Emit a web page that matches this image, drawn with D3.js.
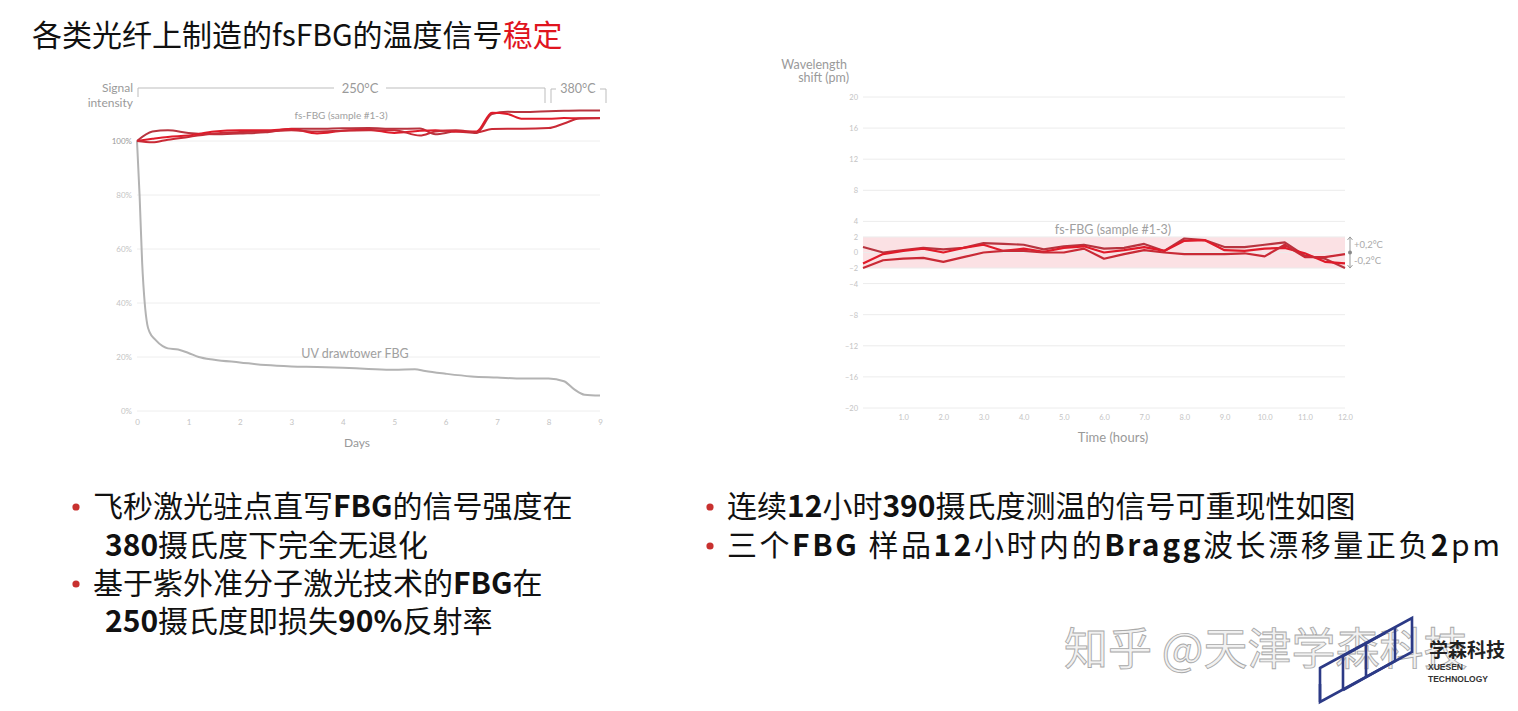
<!DOCTYPE html>
<html><head><meta charset="utf-8">
<script src="https://cdn.jsdelivr.net/npm/d3@7"></script>
<style>
html,body{margin:0;padding:0;background:#fff;}
svg{display:block;}
</style></head>
<body>
<svg id="c" width="1518" height="711"></svg>
<script>
// ---------- DATA ----------
// Left chart: signal intensity (%) vs days
const leftYTicks = [0, 20, 40, 60, 80, 100];
const leftXTicks = [0, 1, 2, 3, 4, 5, 6, 7, 8, 9];
const fsDays = [0, 0.3, 0.6, 1, 1.5, 2, 2.5, 3, 3.5, 4, 4.5, 5, 5.5, 5.8, 6.2, 6.6, 6.9, 7.2, 7.5, 8, 8.3, 8.6, 9];
const fsSample1 = [100, 103.5, 104, 103, 102.5, 102.8, 103.2, 104.5, 104.5, 104.7, 104.8, 104.5, 104.6, 102.5, 103.5, 103, 110, 110.8, 110.7, 111, 111.2, 111.3, 111.3];
const fsSample2 = [100, 100.8, 101.5, 102, 103.5, 104, 104, 104.4, 102.8, 103.8, 104.2, 103, 103.8, 104, 103.5, 103.5, 110.5, 110, 108.2, 108.2, 108.5, 108.4, 108.4];
const fsSample3 = [100, 99.5, 100.5, 101.5, 102.8, 103.3, 103.5, 104, 103.5, 103.8, 104, 104, 102, 103.5, 104, 103.2, 104.4, 104.5, 104.5, 104.8, 106.5, 108.3, 108.5];
const uvDays = [0, 0.05, 0.1, 0.15, 0.2, 0.25, 0.35, 0.5, 0.6, 0.8, 1.0, 1.2, 1.5, 2, 2.5, 3, 3.5, 4, 4.5, 5, 5.4, 5.6, 6, 6.5, 7, 7.5, 8, 8.3, 8.5, 8.7, 9];
const uvSignal = [100, 80, 55, 40, 32, 29, 26.5, 24, 23.2, 22.8, 21.5, 20, 19, 18, 17, 16.5, 16.3, 16, 15.6, 15.3, 15.5, 14.8, 13.8, 12.8, 12.4, 12, 12, 11, 8, 6, 5.7];

// Right chart: wavelength shift (pm) vs time (hours)
const rightYTicks = [20, 16, 12, 8, 4, 2, 0, -2, -4, -8, -12, -16, -20];
const rightXTicks = [1, 2, 3, 4, 5, 6, 7, 8, 9, 10, 11, 12];
const hours = [0, 0.5, 1, 1.5, 2, 2.5, 3, 3.5, 4, 4.5, 5, 5.5, 6, 6.5, 7, 7.5, 8, 8.5, 9, 9.5, 10, 10.5, 11, 11.5, 12];
const shiftA = [0.7, 0.0, 0.3, 0.6, 0.4, 0.6, 1.2, 1.1, 1.0, 0.4, 0.8, 1.0, 0.5, 0.6, 1.1, 0.2, 1.8, 1.6, 0.7, 0.7, 1.0, 1.3, -0.4, -0.8, -2.0];
const shiftB = [-1.4, -0.2, 0.2, 0.5, 0.0, 0.6, 1.0, 0.2, 0.5, 0.1, 0.6, 0.8, 0.0, 0.3, 0.7, 0.2, 1.5, 1.6, 0.3, 0.2, 0.5, 0.6, -0.1, -1.2, -1.4];
const shiftC = [-2.0, -1.0, -0.8, -0.7, -1.2, -0.6, 0.0, 0.2, 0.2, 0.0, 0.0, 0.5, -0.8, -0.2, 0.3, 0.0, -0.2, -0.2, -0.2, -0.1, -0.5, 1.0, -0.6, -0.6, -0.2];
const bandLimit = 2;

const svg = d3.select("#c");
svg.append("rect").attr("width",1518).attr("height",711).attr("fill","#fff");

const CJK = "'Noto Sans CJK SC','Noto Sans',sans-serif";
const LAT = "Lato,'Open Sans',sans-serif";

// ---------- TITLE ----------
const title = svg.append("text").attr("x",32).attr("y",46)
  .attr("font-family",CJK).attr("font-size",30).attr("fill","#111");
title.append("tspan").text("各类光纤上制造的fsFBG的温度信号");
title.append("tspan").attr("fill","#e0141e").text("稳定");

// ---------- LEFT CHART ----------
const lx = d3.scaleLinear().domain([0,9]).range([137,600]);
const ly = d3.scaleLinear().domain([0,100]).range([411,141]);
const L = svg.append("g");

L.selectAll(".lg").data(leftYTicks).join("line")
  .attr("x1",lx(0)).attr("x2",lx(9)).attr("y1",d=>ly(d)).attr("y2",d=>ly(d))
  .attr("stroke","#eeeeee").attr("stroke-width",1);
const lyAxis = L.append("g").attr("transform",`translate(${lx(0)-3},0)`)
  .call(d3.axisLeft(ly).tickValues(leftYTicks).tickFormat(d=>d+"%").tickSize(0).tickPadding(2));
lyAxis.select(".domain").remove();
lyAxis.selectAll("text").attr("font-family",LAT).attr("font-size",8)
  .attr("fill",d=>d===100?"#999":"#c4c4c4");
const lxAxis = L.append("g").attr("transform",`translate(0,${ly(0)+8})`)
  .call(d3.axisBottom(lx).tickValues(leftXTicks).tickFormat(d3.format("d")).tickSize(0).tickPadding(0));
lxAxis.select(".domain").remove();
lxAxis.selectAll("text").attr("font-family",LAT).attr("font-size",8).attr("fill","#c4c4c4");
L.append("text").attr("x",357).attr("y",447).attr("text-anchor","middle")
  .attr("font-family",LAT).attr("font-size",12).attr("fill","#999").text("Days");
L.append("text").attr("x",133).attr("y",92).attr("text-anchor","end")
  .attr("font-family",LAT).attr("font-size",12).attr("fill","#9a9a9a").text("Signal");
L.append("text").attr("x",133).attr("y",107).attr("text-anchor","end")
  .attr("font-family",LAT).attr("font-size",12).attr("fill","#9a9a9a").text("intensity");

// temperature brackets
const bc = "#bdbdbd";
L.append("path").attr("fill","none").attr("stroke",bc).attr("stroke-width",1)
  .attr("d",`M${lx(0)+1},97 V88 H334 M386,88 H545 V103`);
L.append("text").attr("x",360).attr("y",93).attr("text-anchor","middle")
  .attr("font-family",LAT).attr("font-size",13).attr("fill","#9a9a9a").text("250°C");
L.append("path").attr("fill","none").attr("stroke",bc).attr("stroke-width",1)
  .attr("d",`M551,103 V89 H556 M600,89 H606 V103`);
L.append("text").attr("x",578).attr("y",93).attr("text-anchor","middle")
  .attr("font-family",LAT).attr("font-size",12.5).attr("fill","#9a9a9a").text("380°C");

const lline = d3.line().x(d=>lx(d[0])).y(d=>ly(d[1])).curve(d3.curveMonotoneX);
L.append("path").attr("d",lline(uvDays.map((d,i)=>[d,uvSignal[i]])))
  .attr("fill","none").attr("stroke","#b3b3b3").attr("stroke-width",2);
L.append("text").attr("x",355).attr("y",358).attr("text-anchor","middle")
  .attr("font-family",LAT).attr("font-size",12.5).attr("fill","#a0a0a0").text("UV drawtower  FBG");

const fsCols = ["#b8343f","#e01b2a","#c92a36"];
[fsSample1, fsSample2, fsSample3].forEach((s,k)=>{
  L.append("path").attr("d",lline(fsDays.map((d,i)=>[d,s[i]])))
    .attr("fill","none").attr("stroke",fsCols[k]).attr("stroke-width",2);
});
L.append("text").attr("x",341).attr("y",119).attr("text-anchor","middle")
  .attr("font-family",LAT).attr("font-size",10).attr("fill","#a0a0a0").text("fs-FBG (sample #1-3)");

// ---------- RIGHT CHART ----------
const rx = d3.scaleLinear().domain([0,12]).range([863,1345]);
const ry = d3.scaleLinear().domain([-20,20]).range([408,97]);
const R = svg.append("g");
R.append("rect").attr("x",rx(0)).attr("width",rx(12)-rx(0))
  .attr("y",ry(bandLimit)).attr("height",ry(-bandLimit)-ry(bandLimit))
  .attr("fill","#fbe1e4");
R.selectAll(".rg").data(rightYTicks).join("line")
  .attr("x1",rx(0)).attr("x2",rx(12)).attr("y1",d=>ry(d)).attr("y2",d=>ry(d))
  .attr("stroke","#ececec").attr("stroke-width",1);
const ryAxis = R.append("g").attr("transform",`translate(${rx(0)-5},0)`)
  .call(d3.axisLeft(ry).tickValues(rightYTicks).tickFormat(d3.format("d")).tickSize(0).tickPadding(0));
ryAxis.select(".domain").remove();
ryAxis.selectAll("text").attr("font-family",LAT).attr("font-size",7.5).attr("fill","#c4c4c4");
const rxAxis = R.append("g").attr("transform",`translate(0,${ry(-20)+7})`)
  .call(d3.axisBottom(rx).tickValues(rightXTicks).tickFormat(d3.format(".1f")).tickSize(0).tickPadding(0));
rxAxis.select(".domain").remove();
rxAxis.selectAll("text").attr("font-family",LAT).attr("font-size",7.5).attr("fill","#c4c4c4");
R.append("text").attr("x",1113).attr("y",442).attr("text-anchor","middle")
  .attr("font-family",LAT).attr("font-size",13).attr("fill","#999").text("Time (hours)");
R.append("text").attr("x",847).attr("y",69).attr("text-anchor","end")
  .attr("font-family",LAT).attr("font-size",12.5).attr("fill","#9a9a9a").text("Wavelength");
R.append("text").attr("x",849).attr("y",82).attr("text-anchor","end")
  .attr("font-family",LAT).attr("font-size",12.5).attr("fill","#9a9a9a").text("shift (pm)");

const rline = d3.line().x(d=>rx(d[0])).y(d=>ry(d[1]));
const rCols = ["#b8343f","#e01b2a","#c92a36"];
[shiftA, shiftB, shiftC].forEach((s,k)=>{
  R.append("path").attr("d",rline(hours.map((h,i)=>[h,s[i]])))
    .attr("fill","none").attr("stroke",rCols[k]).attr("stroke-width",2.2).attr("stroke-linejoin","round");
});
R.append("text").attr("x",1113).attr("y",234).attr("text-anchor","middle")
  .attr("font-family",LAT).attr("font-size",12.5).attr("fill","#a0a0a0").text("fs-FBG (sample #1-3)");
// band marker
const mx = 1350;
R.append("path").attr("fill","none").attr("stroke","#9a9a9a").attr("stroke-width",1)
  .attr("d",`M${mx},${ry(bandLimit)} V${ry(-bandLimit)} M${mx-2.5},${ry(bandLimit)+3} L${mx},${ry(bandLimit)} L${mx+2.5},${ry(bandLimit)+3} M${mx-2.5},${ry(-bandLimit)-3} L${mx},${ry(-bandLimit)} L${mx+2.5},${ry(-bandLimit)-3}`);
R.append("circle").attr("cx",mx).attr("cy",ry(0)).attr("r",2).attr("fill","#888");
R.append("text").attr("x",mx+4).attr("y",ry(1)+3).attr("font-family",LAT).attr("font-size",9.5).attr("fill","#aaa").text("+0,2°C");
R.append("text").attr("x",mx+4).attr("y",ry(-1)+4).attr("font-family",LAT).attr("font-size",9.5).attr("fill","#aaa").text("-0,2°C");

// ---------- BULLETS ----------
function richLine(x, y, parts, len){
  const t = svg.append("text").attr("x",x).attr("y",y)
    .attr("font-family",CJK).attr("font-size",30).attr("fill","#111");
  if (len) t.attr("textLength",len).attr("lengthAdjust","spacing");
  parts.forEach(p=>{
    t.append("tspan").attr("font-weight",p[1]?700:400).text(p[0]);
  });
}
function dot(x,y){ svg.append("circle").attr("cx",x).attr("cy",y).attr("r",3.6).attr("fill","#c8312f"); }

dot(76,507);
richLine(93,517,[["飞秒激光驻点直写",0],["FBG",1],["的信号强度在",0]]);
richLine(105,556,[["380",1],["摄氏度下完全无退化",0]]);
dot(76,584);
richLine(93,594,[["基于紫外准分子激光技术的",0],["FBG",1],["在",0]]);
richLine(105,632,[["250",1],["摄氏度即损失",0],["90%",1],["反射率",0]]);

dot(710,507);
richLine(727,517,[["连续",0],["12",1],["小时",0],["390",1],["摄氏度测温的信号可重现性如图",0]]);
dot(710,546);
richLine(727,556,[["三个",0],["FBG",1],[" 样品",0],["12",1],["小时内的",0],["Bragg",1],["波长漂移量正负",0],["2",1],["pm",0]], 773);

// ---------- WATERMARK & LOGO ----------
svg.append("text").attr("x",1064).attr("y",665).attr("font-family",CJK).attr("font-size",44)
  .attr("fill","#f1f1f1").attr("stroke","#a9a9a9").attr("stroke-width",0.9).text("知乎 @天津学森科技");
const logo = svg.append("g").attr("fill","none").attr("stroke","#2c3a86").attr("stroke-width",2.6).attr("stroke-linejoin","miter");
logo.append("path").attr("d","M1320,668 L1412,618 L1412,652 L1320,702 Z");
logo.append("path").attr("d","M1320,702 L1320,684 M1366,643 L1366,677 M1343,690 L1395,661 L1395,628");
logo.append("path").attr("d","M1343,690 L1343,656 L1385,633");
svg.append("text").attr("x",1429).attr("y",657).attr("font-family",CJK).attr("font-weight",700)
  .attr("font-size",19).attr("fill","#222").text("学森科技");
svg.append("text").attr("x",1428).attr("y",670).attr("font-family","'Liberation Sans',sans-serif").attr("font-weight",700)
  .attr("font-size",8.5).attr("fill","#333").text("XUESEN");
svg.append("text").attr("x",1428).attr("y",682).attr("font-family","'Liberation Sans',sans-serif").attr("font-weight",700)
  .attr("font-size",8.5).attr("fill","#333").text("TECHNOLOGY");
</script>
</body></html>
